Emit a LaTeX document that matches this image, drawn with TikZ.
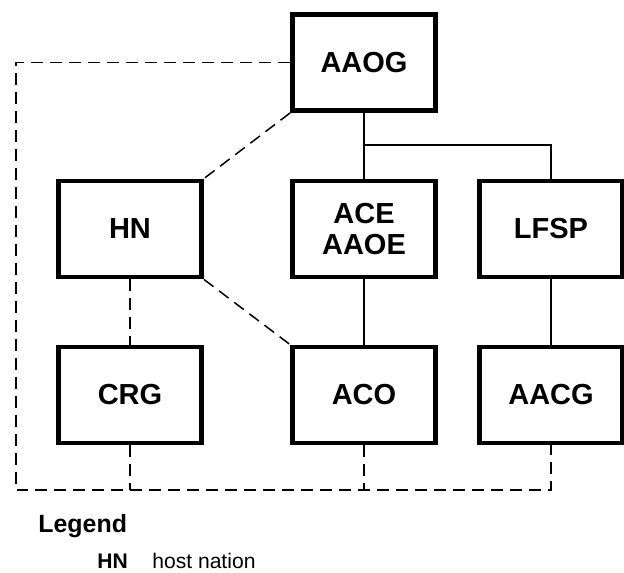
\documentclass[tikz,border=0pt]{standalone}
\usepackage{fontspec}
\setmainfont{Liberation Sans}
\usepackage{tikz}

\begin{document}
\begin{tikzpicture}[x=0.02cm, y=-0.02cm,
		unit/.style={draw, line width=2.8pt, minimum width=2.86cm, minimum height=1.92cm,
			font=\fontsize{16.5}{17.6}\selectfont\bfseries, align=center},
		solidlink/.style={line width=0.85pt},
		dashlink/.style={line width=0.85pt, dash pattern=on 6.8pt off 4pt}]
		\useasboundingbox (0,0) rectangle (624,572);
		% top
		\node[unit] (aaog) at (364, 62.5) {AAOG};
		% middle row
		\node[unit] (hn) at (130, 229) {HN};
		\node[unit] (ace) at (364, 229) {ACE\\AAOE};
		\node[unit] (lfsp) at (551, 229) {LFSP};
		% bottom row
		\node[unit] (crg) at (130, 395) {CRG};
		\node[unit] (aco) at (364, 395) {ACO};
		\node[unit] (aacg) at (551, 395) {AACG};
		% solid lines
		\coordinate (fork) at (364, 145);
		\draw[solidlink] (aaog.south) -- (ace.north);
		\draw[solidlink] (fork) -| (lfsp.north);
		\draw[solidlink] (ace.south) -- (aco.north);
		\draw[solidlink] (lfsp.south) -- (aacg.north);
		% dashed lines
		\draw[dashlink] (aaog.south west) -- (hn.north east);
		\draw[dashlink] (hn.south east) -- (aco.north west);
		\draw[dashlink] (hn.south) -- (crg.north);
		\coordinate (corner) at (16, 490);
		\draw[dashlink] (aaog.west) -| (corner) -| (aacg.south);
		\draw[dashlink] (crg.south) -- (crg.south |- corner);
		\draw[dashlink] (aco.south) -- (aco.south |- corner);
		% legend
		\node[anchor=base west, inner sep=0pt, font=\fontsize{14.2}{16}\selectfont\bfseries] (legend) at (38, 532) {Legend};
		\node[anchor=base west, inner sep=0pt, font=\fontsize{12}{14}\selectfont\bfseries] (hnkey) at (97, 568) {HN};
		\node[anchor=base west, inner sep=0pt, font=\fontsize{12}{14}\selectfont] (hntext) at (152, 568) {host nation};
	\end{tikzpicture}
\end{document}
